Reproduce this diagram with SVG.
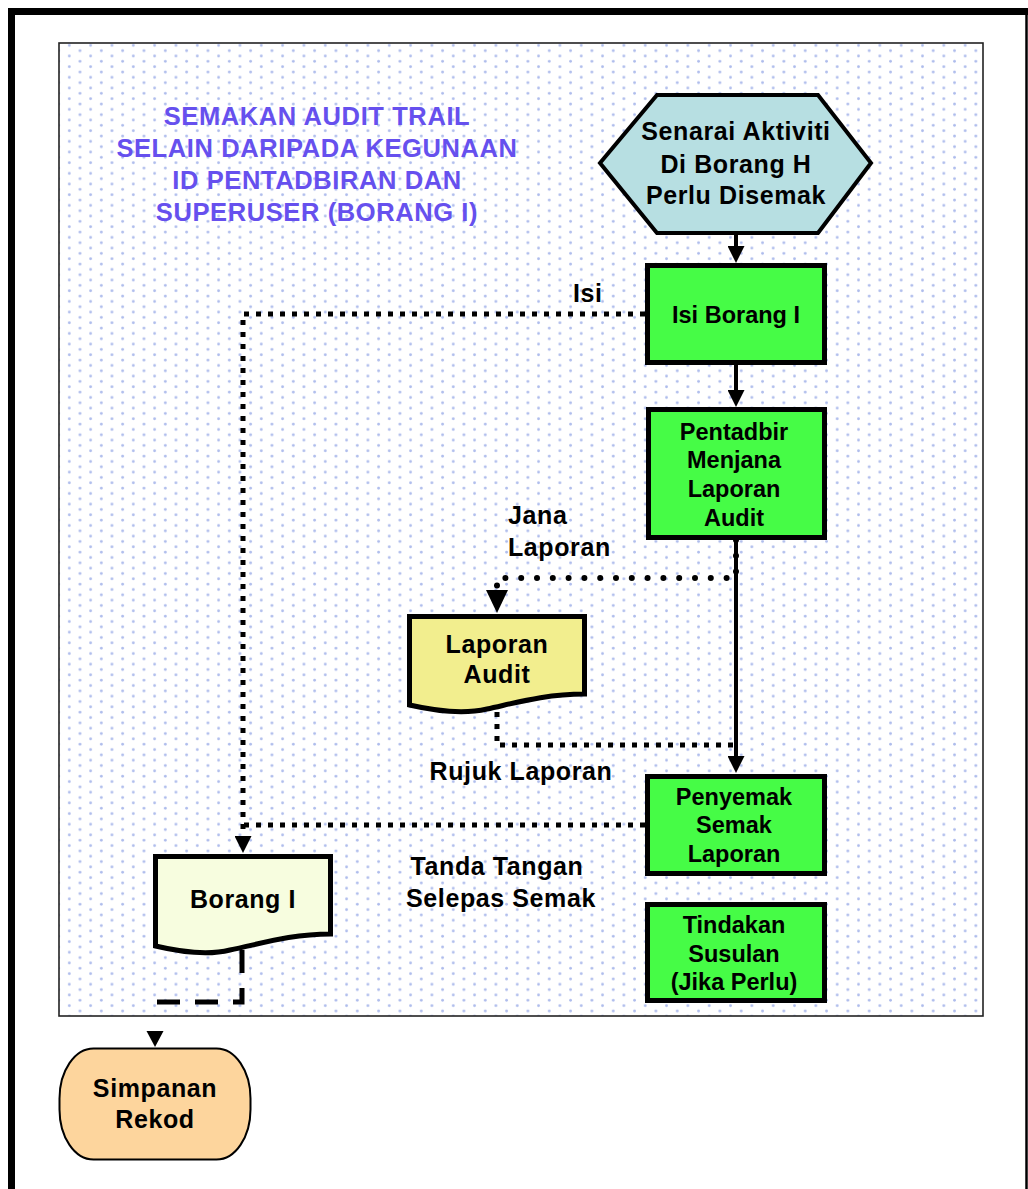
<svg xmlns="http://www.w3.org/2000/svg" width="1028" height="1189" viewBox="0 0 1028 1189">
<style>
text{font-family:"Liberation Sans",Arial,"Noto Sans",sans-serif;font-weight:bold;fill:#000;text-anchor:middle}
.t25{font-size:25px;letter-spacing:0.6px}
.t23{font-size:23.5px}
.title{font-size:25.5px;letter-spacing:0.6px;fill:#6650ee}
.lbl{font-size:25px;letter-spacing:0.6px}
.box{fill:#46fc46;stroke:#000;stroke-width:5}
.solid{fill:none;stroke:#000;stroke-width:4}
.rdot{fill:none;stroke:#000;stroke-width:6;stroke-linecap:round;stroke-dasharray:0 15.8}
.sdot{fill:none;stroke:#000;stroke-width:5;stroke-dasharray:5 7}
.dash{fill:none;stroke:#000;stroke-width:5;stroke-dasharray:23 15}
</style>
<defs>
<pattern id="dots" patternUnits="userSpaceOnUse" x="0" y="0" width="21.33" height="10.67">
<circle cx="5.3" cy="2.7" r="1.4" fill="#aebcec"/>
<circle cx="16" cy="8" r="1.4" fill="#aebcec"/>
</pattern>
<marker id="arr" markerUnits="userSpaceOnUse" markerWidth="17" markerHeight="17" refX="0" refY="8.5" orient="auto" viewBox="0 0 17 17">
<path d="M0,0 L17,8.5 L0,17 Z" fill="#000"/>
</marker>
<marker id="arrL" markerUnits="userSpaceOnUse" markerWidth="23" markerHeight="22" refX="0" refY="11" orient="auto" viewBox="0 0 23 22">
<path d="M0,0 L23,11 L0,22 Z" fill="#000"/>
</marker>
</defs>
<rect width="1028" height="1189" fill="#fff"/>
<path d="M11.5,1189 V11.5 H1028" fill="none" stroke="#000" stroke-width="7"/>
<line x1="1026.5" y1="8" x2="1026.5" y2="1189" stroke="#000" stroke-width="2.5"/>
<rect id="panel" x="59" y="43" width="924" height="973" fill="url(#dots)" stroke="#222" stroke-width="1.6"/>

<g id="title">
<text class="title" x="317" y="125">SEMAKAN AUDIT TRAIL</text>
<text class="title" x="317" y="157">SELAIN DARIPADA KEGUNAAN</text>
<text class="title" x="317" y="189">ID PENTADBIRAN DAN</text>
<text class="title" x="317" y="221">SUPERUSER (BORANG I)</text>
</g>

<g id="connectors">
<path class="solid" d="M736,235 V246" marker-end="url(#arr)"/>
<path class="solid" d="M736,365 V390" marker-end="url(#arr)"/>
<path class="solid" d="M736,540 V756" marker-end="url(#arr)"/>
<path class="rdot" d="M736,540 V578 H497 V590" marker-end="url(#arrL)"/>
<path class="sdot" d="M497,712 V745 H733"/>
<path class="sdot" d="M645,314 H243 V836" marker-end="url(#arr)"/>
<path class="sdot" d="M645,825 H243"/>
<path class="dash" d="M242,950 V1002 H155 V1014"/>
<polygon points="146.5,1031 163.5,1031 155,1047" fill="#000"/>
<text class="lbl" x="573" y="302" style="text-anchor:start">Isi</text>
<text class="lbl" x="508" y="524" style="text-anchor:start">Jana</text>
<text class="lbl" x="508" y="556" style="text-anchor:start">Laporan</text>
<text class="lbl" x="521" y="780">Rujuk Laporan</text>
<text class="lbl" x="497" y="875">Tanda Tangan</text>
<text class="lbl" x="501" y="907">Selepas Semak</text>
</g>

<g id="senarai">
<polygon points="600,163 657,95 818,95 871,163 818,233 657,233" fill="#b7dfe2" stroke="#000" stroke-width="4"/>
<text class="t25" x="736" y="140">Senarai Aktiviti</text>
<text class="t25" x="736" y="173">Di Borang H</text>
<text class="t25" x="736" y="204">Perlu Disemak</text>
</g>

<g id="isi-borang">
<rect class="box" x="647.5" y="265.5" width="177" height="97"/>
<text class="t23" x="736" y="323">Isi Borang I</text>
</g>

<g id="pentadbir">
<rect class="box" x="648.5" y="409.5" width="176" height="128"/>
<text class="t23" x="734" y="440">Pentadbir</text>
<text class="t23" x="734" y="468">Menjana</text>
<text class="t23" x="734" y="497">Laporan</text>
<text class="t23" x="734" y="526">Audit</text>
</g>

<g id="laporan-audit">
<path d="M409.5,616.5 H584.5 V694 C545,694 515,703 487,709 C465,714 440,712 409.5,705 Z" fill="#f2ee8e" stroke="#000" stroke-width="5"/>
<text class="t25" x="497" y="653">Laporan</text>
<text class="t25" x="497" y="683">Audit</text>
</g>

<g id="penyemak">
<rect class="box" x="647.5" y="776.5" width="177" height="97"/>
<text class="t23" x="734" y="805">Penyemak</text>
<text class="t23" x="734" y="833">Semak</text>
<text class="t23" x="734" y="862">Laporan</text>
</g>

<g id="tindakan">
<rect class="box" x="647.5" y="904.5" width="177" height="96"/>
<text class="t23" x="734" y="933">Tindakan</text>
<text class="t23" x="734" y="962">Susulan</text>
<text class="t23" x="734" y="990">(Jika Perlu)</text>
</g>

<g id="borang-i">
<path d="M155.5,856.5 H330.5 V934 C290,934 260,944 230,950 C210,955 185,953 155.5,946 Z" fill="#f7fddf" stroke="#000" stroke-width="5"/>
<text class="t25" x="243" y="908">Borang I</text>
</g>

<g id="simpanan">
<rect x="59.5" y="1048.5" width="191" height="111" rx="34" ry="50" fill="#fdd59d" stroke="#000" stroke-width="2"/>
<text class="t25" x="155" y="1097">Simpanan</text>
<text class="t25" x="155" y="1128">Rekod</text>
</g>
</svg>
